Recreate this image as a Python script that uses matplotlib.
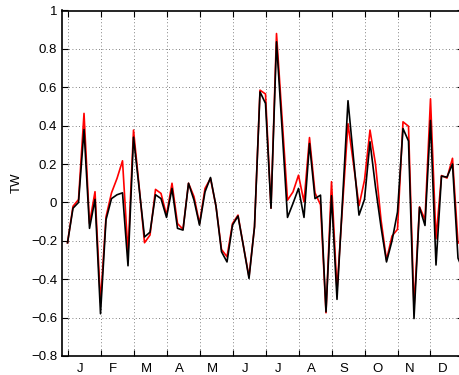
# Pentad TW series, two versions (red and black), Jan-Dec
import matplotlib
matplotlib.use("Agg")
import matplotlib.pyplot as plt
import numpy as np

plt.rcParams['font.family'] = ['Liberation Sans', 'DejaVu Sans']

# pentad index 1..73
pentad = np.arange(1, 74)

tw_black = [
    -0.21, -0.03, 0.00, 0.38, -0.135, 0.016, -0.58, -0.09, 0.02, 0.04,
    0.05, -0.33, 0.34, 0.08, -0.18, -0.155, 0.04, 0.02, -0.078, 0.073,
    -0.135, -0.144, 0.10, 0.012, -0.118, 0.055, 0.13, -0.02, -0.257, -0.31,
    -0.118, -0.071, -0.23, -0.396, -0.127, 0.576, 0.516, -0.03, 0.837, 0.39,
    -0.078, -0.005, 0.073, -0.078, 0.307, 0.02, 0.038, -0.57, 0.035, -0.505,
    0.01, 0.53, 0.23, -0.066, 0.016, 0.316, 0.08, -0.127, -0.31, -0.20,
    -0.05, 0.385, 0.32, -0.605, -0.026, -0.12, 0.427, -0.326, 0.137, 0.132,
    0.20, -0.29, -0.36]

tw_red = [
    -0.21, -0.02, 0.015, 0.464, -0.11, 0.056, -0.52, -0.075, 0.05, 0.125,
    0.217, -0.265, 0.377, 0.09, -0.21, -0.17, 0.068, 0.047, -0.066, 0.10,
    -0.11, -0.14, 0.10, 0.03, -0.11, 0.073, 0.125, -0.02, -0.245, -0.283,
    -0.11, -0.066, -0.23, -0.387, -0.127, 0.585, 0.565, -0.03, 0.88, 0.445,
    0.012, 0.055, 0.142, 0.003, 0.338, 0.05, -0.012, -0.575, 0.108, -0.457,
    -0.02, 0.41, 0.20, -0.017, 0.116, 0.377, 0.20, -0.09, -0.30, -0.175,
    -0.14, 0.42, 0.397, -0.55, -0.023, -0.09, 0.54, -0.19, 0.14, 0.127,
    0.23, -0.21, -0.22]

month_labels = ['J', 'F', 'M', 'A', 'M', 'J', 'J', 'A', 'S', 'O', 'N', 'D']
month_starts = np.arange(1, 73, 6)          # first pentad of each month
yticks = [-0.8, -0.6, -0.4, -0.2, 0, 0.2, 0.4, 0.6, 0.8, 1]
ytick_labels = ['\u22120.8', '\u22120.6', '\u22120.4', '\u22120.2', '0',
                '0.2', '0.4', '0.6', '0.8', '1']

fig = plt.figure(figsize=(4.59, 3.75), dpi=100)
# the axes run past the right edge of the figure, as in the original
ax = fig.add_axes([0.1351, 0.0507, 0.8747, 0.9213])

ax.plot(pentad, tw_red, color='red', lw=1.2)
ax.plot(pentad, tw_black, color='black', lw=1.2)

ax.set_xlim(0, 73)
ax.set_ylim(-0.8, 1)

ax.set_xticks(month_starts)
ax.set_xticklabels([])
ax.set_xticks(month_starts + 2.3, minor=True)
ax.set_xticklabels(month_labels, minor=True)
ax.tick_params(axis='x', which='minor', length=0, pad=5, labelsize=9.5)

ax.set_yticks(yticks)
ax.set_yticklabels(ytick_labels)

ax.tick_params(axis='both', which='major', direction='in', length=4,
               width=0.8, top=True, right=True, labelsize=9.5)
ax.grid(True, which='major', color='0.35', linestyle=(0, (1, 3)), lw=0.6)

for s in ax.spines.values():
    s.set_linewidth(1.2)

ax.set_ylabel('TW', fontsize=9.5, labelpad=6)

fig.savefig('out.png', dpi=100)
